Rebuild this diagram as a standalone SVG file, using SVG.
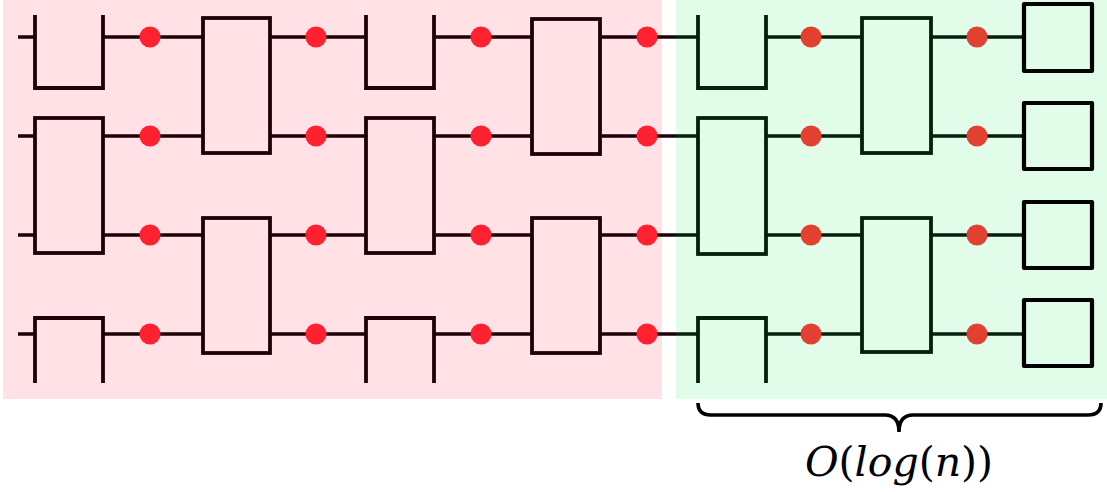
<svg xmlns="http://www.w3.org/2000/svg" width="1107" height="492" viewBox="0 0 1107 492">
<style>
.pw{stroke:#1e0006;stroke-width:3.6;fill:none;stroke-linecap:butt}
.gw{stroke:#02200c;stroke-width:3.6;fill:none}
.pb{stroke:#1e0006;stroke-width:3.8;fill:none;stroke-linejoin:miter}
.gb{stroke:#02200c;stroke-width:3.8;fill:none}
.sq{stroke:#000;stroke-width:4.2;fill:none;stroke-linejoin:round}
.pd{fill:#ff2030}
.gd{fill:#e24030}
</style>
<g id="regions">
<rect x="3" y="0" width="659" height="399" fill="#ffe1e6"/>
<rect x="676" y="0" width="431" height="399" fill="#e1fde9"/>
</g>
<g id="connectors">
<path class="pw" d="M18,37H35M103,37H203M270,37H366M434,37H532M600,37H676"/>
<path class="pw" d="M18,136H35M103,136H203M270,136H366M434,136H532M600,136H676"/>
<path class="pw" d="M18,235H35M103,235H203M270,235H366M434,235H532M600,235H676"/>
<path class="pw" d="M18,334H35M103,334H203M270,334H366M434,334H532M600,334H676"/>
<path class="gw" d="M676,37H698M766,37H862M931,37H1024"/>
<path class="gw" d="M676,136H698M766,136H862M931,136H1024"/>
<path class="gw" d="M676,235H698M766,235H862M931,235H1024"/>
<path class="gw" d="M676,334H698M766,334H862M931,334H1024"/>
</g>
<g id="col1">
<path class="pb" d="M35,15V88H103V15"/>
<rect class="pb" x="35" y="118" width="68" height="135"/>
<path class="pb" d="M35,383V318H103V383"/>
</g>
<g id="col2">
<rect class="pb" x="203" y="18" width="67" height="135"/>
<rect class="pb" x="203" y="218" width="67" height="135"/>
</g>
<g id="col3">
<path class="pb" d="M366,15V88H434V15"/>
<rect class="pb" x="366" y="118" width="68" height="135"/>
<path class="pb" d="M366,383V318H434V383"/>
</g>
<g id="col4">
<rect class="pb" x="532" y="19" width="68" height="135"/>
<rect class="pb" x="532" y="218" width="68" height="135"/>
</g>
<g id="col5">
<path class="gb" d="M698,15V88H766V15"/>
<rect class="gb" x="698" y="118" width="68" height="136"/>
<path class="gb" d="M698,383V318H766V383"/>
</g>
<g id="col6">
<rect class="gb" x="862" y="18" width="69" height="135"/>
<rect class="gb" x="862" y="218" width="69" height="134"/>
</g>
<g id="outputs">
<rect class="sq" x="1024" y="4" width="68" height="67"/>
<rect class="sq" x="1024" y="103" width="68" height="66"/>
<rect class="sq" x="1024" y="202" width="68" height="66"/>
<rect class="sq" x="1024" y="300" width="68" height="66"/>
</g>
<g id="dots">
<circle class="pd" cx="150" cy="37" r="10.5"/><circle class="pd" cx="150" cy="136" r="10.5"/><circle class="pd" cx="150" cy="235" r="10.5"/><circle class="pd" cx="150" cy="334" r="10.5"/>
<circle class="pd" cx="316" cy="37" r="10.5"/><circle class="pd" cx="316" cy="136" r="10.5"/><circle class="pd" cx="316" cy="235" r="10.5"/><circle class="pd" cx="316" cy="334" r="10.5"/>
<circle class="pd" cx="481" cy="37" r="10.5"/><circle class="pd" cx="481" cy="136" r="10.5"/><circle class="pd" cx="481" cy="235" r="10.5"/><circle class="pd" cx="481" cy="334" r="10.5"/>
<circle class="pd" cx="647" cy="37" r="10.5"/><circle class="pd" cx="647" cy="136" r="10.5"/><circle class="pd" cx="647" cy="235" r="10.5"/><circle class="pd" cx="647" cy="334" r="10.5"/>
<circle class="gd" cx="811" cy="37" r="10.5"/><circle class="gd" cx="811" cy="136" r="10.5"/><circle class="gd" cx="811" cy="235" r="10.5"/><circle class="gd" cx="811" cy="334" r="10.5"/>
<circle class="gd" cx="977" cy="37" r="10.5"/><circle class="gd" cx="977" cy="136" r="10.5"/><circle class="gd" cx="977" cy="235" r="10.5"/><circle class="gd" cx="977" cy="334" r="10.5"/>
</g>
<g id="brace">
<path d="M698,403Q698,415 711,415H885Q899,415 899,432Q899,415 913,415H1088Q1101,415 1101,403" fill="none" stroke="#000" stroke-width="3.6"/>
</g>
<g id="label">
<text x="899" y="476" text-anchor="middle" font-family="'DejaVu Serif', serif" font-size="41" fill="#000"><tspan font-style="italic">O</tspan>(<tspan font-style="italic">log</tspan>(<tspan font-style="italic">n</tspan>))</text>
</g>
</svg>
